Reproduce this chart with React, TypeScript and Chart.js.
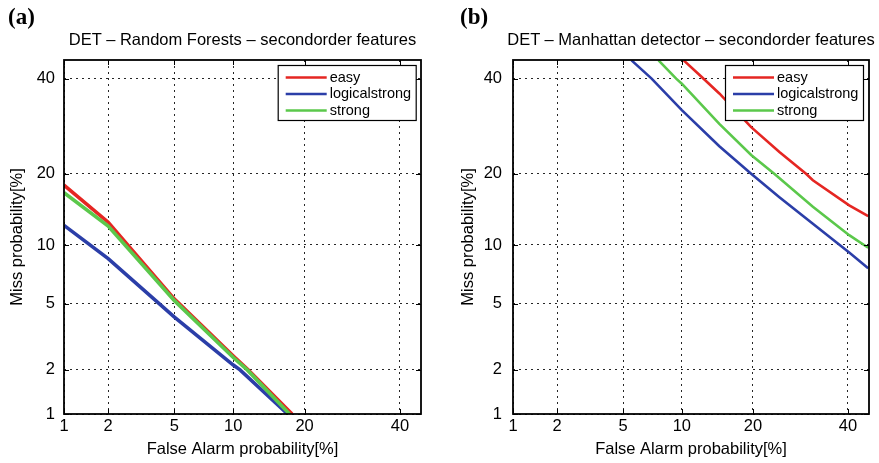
import React, { useEffect, useRef } from 'react';
import { Chart, registerables } from 'chart.js';

Chart.register(...registerables);

// ---------- data ----------
const TICK_VALUES = [1, 2, 5, 10, 20, 40];
const TICK_LABELS = ['1', '2', '5', '10', '20', '40'];
const SERIES_NAMES = ['easy', 'logicalstrong', 'strong'];
const SERIES_COLORS = ['#e52622', '#2b3ea8', '#5bc84b'];

// (a) Random Forests – false alarm [%] / miss [%]
const rfEasyFA = [1, 2, 5, 10, 11.7, 17.9];
const rfEasyMiss = [18.1, 12.7, 5.3, 2.45, 2.0, 1.0];
const rfLogicalFA = [1, 2, 5, 10, 10.75, 17.2];
const rfLogicalMiss = [12.3, 8.6, 4.2, 2.15, 2.0, 1.0];
const rfStrongFA = [1, 2, 5, 10, 11.6, 17.5];
const rfStrongMiss = [16.9, 12.2, 5.2, 2.4, 2.0, 1.0];

// (b) Manhattan detector – false alarm [%] / miss [%]
const mhEasyFA = [10.2, 12.1, 14.7, 19.7, 24.9, 30.4, 31.9, 40.3, 44.9];
const mhEasyMiss = [44.4, 40.8, 36.5, 29, 24, 20, 18.9, 15, 13.5];
const mhLogicalFA = [5.56, 7.1, 10, 14.7, 19.7, 24.9, 31.9, 40.3, 44.9];
const mhLogicalMiss = [44.4, 40, 32.7, 25.1, 20, 16.2, 12.5, 9.2, 7.7];
const mhStrongFA = [7.7, 9.4, 10, 14.7, 19.7, 23.9, 31.9, 40.3, 44.9];
const mhStrongMiss = [44.4, 40, 38.8, 29.7, 23.4, 20, 14.8, 11.1, 9.7];

const AXIS_MIN = 1;
const X_MAX = 45.1;
const Y_MAX = 44.5;

// ---------- helpers ----------
function probit(p: number): number {
  const a = [-3.969683028665376e1, 2.209460984245205e2, -2.759285104469687e2, 1.38357751867269e2, -3.066479806614716e1, 2.506628277459239];
  const b = [-5.447609879822406e1, 1.615858368580409e2, -1.556989798598866e2, 6.680131188771972e1, -1.328068155288572e1];
  const c = [-7.784894002430293e-3, -3.223964580411365e-1, -2.400758277161838, -2.549732539343734, 4.374664141464968, 2.938163982698783];
  const d = [7.784695709041462e-3, 3.224671290700398e-1, 2.445134137142996, 3.754408661907416];
  const plow = 0.02425;
  const phigh = 1 - plow;
  let q: number, r: number;
  if (p < plow) {
    q = Math.sqrt(-2 * Math.log(p));
    return (((((c[0] * q + c[1]) * q + c[2]) * q + c[3]) * q + c[4]) * q + c[5]) / ((((d[0] * q + d[1]) * q + d[2]) * q + d[3]) * q + 1);
  }
  if (p <= phigh) {
    q = p - 0.5;
    r = q * q;
    return ((((((a[0] * r + a[1]) * r + a[2]) * r + a[3]) * r + a[4]) * r + a[5]) * q) / (((((b[0] * r + b[1]) * r + b[2]) * r + b[3]) * r + b[4]) * r + 1);
  }
  q = Math.sqrt(-2 * Math.log(1 - p));
  return -(((((c[0] * q + c[1]) * q + c[2]) * q + c[3]) * q + c[4]) * q + c[5]) / ((((d[0] * q + d[1]) * q + d[2]) * q + d[3]) * q + 1);
}

const pz = (pct: number) => probit(pct / 100);
const toPoints = (fa: number[], miss: number[]) => fa.map((f, i) => ({ x: pz(f), y: pz(miss[i]) }));

const FONT = "'Liberation Sans', Arial, Helvetica, sans-serif";
const H = 463;

type PanelProps = {
  left: number;
  width: number;
  fa: number[][];
  miss: number[][];
  lineWidth: number;
  yAxisWidth: number;
  yTickPad: number;
  yTitlePad: number;
  padRight: number;
  legendRight: number;
};

function makeFramePlugin(legendRight: number) {
  return {
    id: 'detFrame',
    afterDatasetsDraw(chart: any) {
      const { ctx, chartArea: a, scales } = chart;
      ctx.save();
      // inward tick marks on all four sides
      ctx.strokeStyle = '#000';
      ctx.lineWidth = 1;
      const tl = 5;
      ctx.beginPath();
      scales.x.ticks.forEach((t: any) => {
        const px = Math.round(scales.x.getPixelForValue(t.value)) + 0.5;
        ctx.moveTo(px, a.bottom);
        ctx.lineTo(px, a.bottom - tl);
        ctx.moveTo(px, a.top);
        ctx.lineTo(px, a.top + tl);
      });
      scales.y.ticks.forEach((t: any) => {
        const py = Math.round(scales.y.getPixelForValue(t.value)) + 0.5;
        ctx.moveTo(a.left, py);
        ctx.lineTo(a.left + tl, py);
        ctx.moveTo(a.right, py);
        ctx.lineTo(a.right - tl, py);
      });
      ctx.stroke();
      // axes box
      ctx.lineWidth = 1.8;
      ctx.strokeRect(a.left, a.top, a.right - a.left, a.bottom - a.top);

      // legend box (top-right inside the plot)
      const bw = 138;
      const bh = 55;
      const bx = a.right - legendRight - bw;
      const by = a.top + 5;
      ctx.fillStyle = '#fff';
      ctx.fillRect(bx, by, bw, bh);
      ctx.lineWidth = 1.2;
      ctx.strokeStyle = '#000';
      ctx.strokeRect(bx + 0.5, by + 0.5, bw, bh);
      ctx.font = `14.5px ${FONT}`;
      ctx.textBaseline = 'middle';
      ctx.textAlign = 'left';
      chart.data.datasets.forEach((ds: any, i: number) => {
        const ry = by + 12.5 + i * 16.5;
        ctx.strokeStyle = ds.borderColor;
        ctx.lineWidth = 2.6;
        ctx.beginPath();
        ctx.moveTo(bx + 8, ry);
        ctx.lineTo(bx + 49, ry);
        ctx.stroke();
        ctx.fillStyle = '#000';
        ctx.fillText(ds.label, bx + 52, ry);
      });
      ctx.restore();
    },
  };
}

function DetPanel(p: PanelProps) {
  const ref = useRef<HTMLCanvasElement>(null);
  useEffect(() => {
    const canvas = ref.current;
    if (!canvas) return;
    const datasets = SERIES_NAMES.map((name, i) => ({
      label: name,
      data: toPoints(p.fa[i], p.miss[i]),
      borderColor: SERIES_COLORS[i],
      backgroundColor: SERIES_COLORS[i],
      borderWidth: p.lineWidth,
      pointRadius: 0,
      tension: 0,
      fill: false,
      order: 3 - i,
    }));
    const tickFont = { family: FONT, size: 16.5 };
    const chart = new Chart(canvas, {
      type: 'line',
      data: { datasets },
      options: {
        animation: false,
        responsive: false,
        devicePixelRatio: 1,
        parsing: false,
        layout: { padding: { top: 60, left: 0, right: p.padRight, bottom: 0 } },
        plugins: { legend: { display: false }, tooltip: { enabled: false }, title: { display: false } },
        scales: {
          x: {
            type: 'linear',
            position: 'bottom',
            min: pz(AXIS_MIN),
            max: pz(X_MAX),
            afterBuildTicks: (s: any) => {
              s.ticks = TICK_VALUES.map((v) => ({ value: pz(v) }));
            },
            afterFit: (s: any) => {
              s.height = 49;
            },
            grid: { color: 'rgba(0,0,0,0.85)', lineWidth: 1, drawTicks: false },
            border: { display: false, dash: [2, 4] },
            ticks: {
              autoSkip: false,
              maxRotation: 0,
              padding: 3,
              color: '#000',
              font: tickFont,
              callback: (_v: any, i: number) => TICK_LABELS[i],
            },
            title: {
              display: true,
              text: 'False Alarm probability[%]',
              color: '#000',
              font: tickFont,
              padding: { top: 0, bottom: 3.6 },
            },
          },
          y: {
            type: 'linear',
            position: 'left',
            min: pz(AXIS_MIN),
            max: pz(Y_MAX),
            afterBuildTicks: (s: any) => {
              s.ticks = TICK_VALUES.map((v) => ({ value: pz(v) }));
            },
            afterFit: (s: any) => {
              s.width = p.yAxisWidth;
            },
            grid: { color: 'rgba(0,0,0,0.85)', lineWidth: 1, drawTicks: false },
            border: { display: false, dash: [2, 4] },
            ticks: {
              autoSkip: false,
              padding: p.yTickPad,
              color: '#000',
              font: tickFont,
              callback: (_v: any, i: number) => TICK_LABELS[i],
            },
            title: {
              display: true,
              text: 'Miss probability[%]',
              color: '#000',
              font: tickFont,
              padding: { top: p.yTitlePad, bottom: 0 },
            },
          },
        },
      } as any,
      plugins: [makeFramePlugin(p.legendRight)],
    });
    return () => chart.destroy();
  }, []);
  return (
    <canvas
      ref={ref}
      width={p.width}
      height={H}
      style={{ position: 'absolute', left: p.left, top: 0, width: p.width, height: H }}
    />
  );
}

const titleStyle: React.CSSProperties = {
  position: 'absolute',
  top: 29,
  transform: 'translateX(-50%)',
  whiteSpace: 'nowrap',
  fontFamily: FONT,
  fontSize: '16.5px',
  lineHeight: '20px',
  color: '#000',
};

const tagStyle: React.CSSProperties = {
  position: 'absolute',
  top: 4,
  fontFamily: "'Liberation Serif', 'Times New Roman', serif",
  fontWeight: 'bold',
  fontSize: '23px',
  lineHeight: '26px',
  color: '#000',
};

export default function App() {
  return (
    <div style={{ position: 'fixed', left: 0, top: 0, width: 879, height: H, background: '#fff', overflow: 'hidden' }}>
      <DetPanel
        left={0}
        width={440}
        fa={[rfEasyFA, rfLogicalFA, rfStrongFA]}
        miss={[rfEasyMiss, rfLogicalMiss, rfStrongMiss]}
        lineWidth={3.6}
        yAxisWidth={64}
        yTickPad={9}
        yTitlePad={8}
        padRight={19}
        legendRight={5.3}
      />
      <DetPanel
        left={440}
        width={439}
        fa={[mhEasyFA, mhLogicalFA, mhStrongFA]}
        miss={[mhEasyMiss, mhLogicalMiss, mhStrongMiss]}
        lineWidth={2.6}
        yAxisWidth={73}
        yTickPad={11}
        yTitlePad={19}
        padRight={10}
        legendRight={6}
      />
      <div style={{ ...tagStyle, left: 8 }}>(a)</div>
      <div style={{ ...tagStyle, left: 460 }}>(b)</div>
      <div style={{ ...titleStyle, left: 242.5 }}>DET – Random Forests – secondorder features</div>
      <div style={{ ...titleStyle, left: 691 }}>DET – Manhattan detector – secondorder features</div>
    </div>
  );
}
